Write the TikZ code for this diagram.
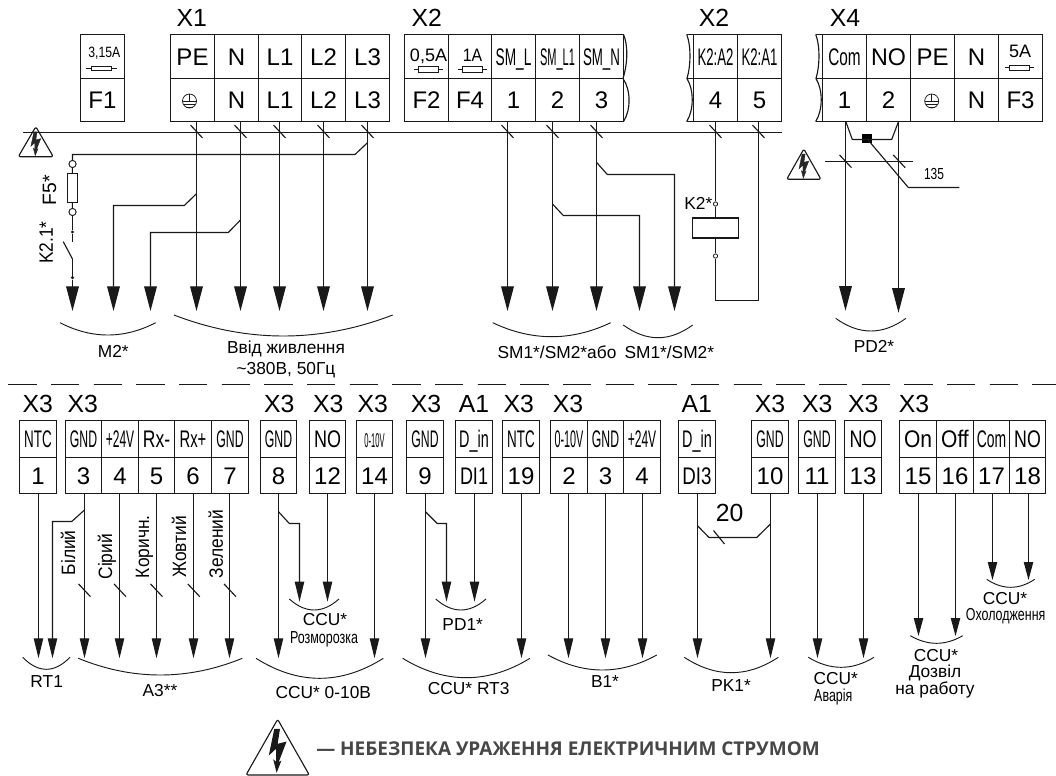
\documentclass[tikz,border=0pt]{standalone}
\usepackage{fontspec}
\usepackage{graphicx}
\setmainfont{Liberation Sans}
\newfontfamily\boldsign{Open Sans}
\usetikzlibrary{arrows.meta}
\newcommand\sx[2]{\scalebox{#1}[1]{#2}}
\tikzset{
  wire/.style={line width=.85pt,draw=black!90},
  thin wire/.style={line width=.55pt,draw=black!90},
  bigtip/.style={-{Triangle[length=18.5pt,width=9.5pt,sep=0pt]}},
  midtip/.style={-{Triangle[length=15pt,width=7pt,sep=0pt]}},
  smalltip/.style={-{Triangle[length=13.5pt,width=7pt,sep=0pt]}},
  cellbox/.style={draw=black!90,line width=.85pt,inner sep=0pt,font=\fontsize{18}{18}\selectfont,text height=13pt,text depth=0pt,align=center},
  head/.style={inner sep=0pt,font=\fontsize{18.6}{18.6}\selectfont,text height=13.3pt,text depth=0pt},
  lab/.style={inner sep=0pt,font=\fontsize{13}{13}\selectfont,text height=9.4pt,text depth=0pt},
  rot/.style={inner sep=0pt,rotate=90,font=\fontsize{14.5}{14.5}\selectfont,text height=10.4pt,text depth=0pt},
  fuselab/.style={inner sep=0pt,text depth=0pt},
  brace/.style={line width=.7pt,draw=black!90},
}
% name, x0, x1, y0, y1, content (borders are snapped to pixel centres)
\newcommand\cellb[6]{\pgfmathsetmacro\cxa{floor(#2)+.5}\pgfmathsetmacro\cxb{floor(#3)+.5}\pgfmathsetmacro\cya{floor(#4)+.5}\pgfmathsetmacro\cyb{floor(#5)+.5}%
\node[cellbox,minimum width={(\cxb-\cxa)*.75pt},minimum height={(\cyb-\cya)*.75pt}] (#1) at ({(\cxa+\cxb)/2},{(\cya+\cyb)/2}) {#6};}
% node, x, tip y, tip style
\newcommand\wirelead[4]{\coordinate (h#1) at (#2,#3); \draw[wire,#4] (#1.south -| h#1) -- (h#1);}
\newcommand\xtick[2]{\draw[wire] ({#1-6},{#2-6.4}) -- ({#1+6},{#2+6.4});}
% group arc: x0, y0, x1, apex y
\newcommand\garc[4]{\draw[brace] (#1,#2) .. controls ({#1+(#3-#1)/3},{#2+(#4-#2)*4/3}) and ({#1+(#3-#1)*2/3},{#2+(#4-#2)*4/3}) .. (#3,#2);}
% x0 y0 x1 y1 bolt style
\newcommand\warnsign[5]{\begin{scope}[shift={(#1,#2)},x={({(#3-#1)*.75pt},0pt)},y={(0pt,{-(#4-#2)*.75pt})}]
\draw[wire,rounded corners=1.6pt,line join=round] (.5,0) -- (1,1) -- (0,1) -- cycle;
\path[#5] (.447,.17) -- (.537,.17) -- (.50,.44) -- (.64,.40) -- (.516,.77) -- (.56,.74) -- (.484,.96) -- (.43,.72) -- (.474,.76) -- (.474,.53) -- (.36,.65) -- cycle;
\end{scope}}
\newcommand\fusesym[4]{% x0 x1 rect half y
\draw[thin wire] (#1,#4) -- (#2,#4);
\draw[thin wire,fill=white] ({(#1+#2)/2-10},{#4-#3}) rectangle ({(#1+#2)/2+10},{#4+#3});}
\newcommand\earth[2]{\draw[thin wire] (#1,#2) circle (7);
\draw[thin wire] (#1,{#2-7}) -- (#1,#2) ({#1-7},#2) -- ({#1+7},#2) ({#1-5.6},{#2+3.6}) -- ({#1+5.6},{#2+3.6}) ({#1-3.2},{#2+6}) -- ({#1+3.2},{#2+6});}
\begin{document}
\begin{tikzpicture}[x=.75pt,y=-.75pt]
\useasboundingbox (0,0) rectangle (1056,775);
\fill[white] (0,0) rectangle (1056,775);
% headers
\node[head] (hX1) at (191.7,18) {X1};
\node[head] (hX2a) at (426.7,18) {X2};
\node[head] (hX2b) at (714,18) {X2};
\node[head] (hX4) at (845,18) {X4};
% top terminals
\cellb{f1t}{80.7}{124}{34.5}{78.5}{}
\cellb{f1}{80.7}{124}{78.5}{121}{F1}
\cellb{pet}{170.7}{214.7}{34.5}{78.5}{PE}
\cellb{pe}{170.7}{214.7}{78.5}{121}{}
\cellb{nt}{214.7}{258}{34.5}{78.5}{N}
\cellb{n}{214.7}{258}{78.5}{121}{N}
\cellb{lat}{258}{301.7}{34.5}{78.5}{L1}
\cellb{la}{258}{301.7}{78.5}{121}{L1}
\cellb{lbt}{301.7}{345.7}{34.5}{78.5}{L2}
\cellb{lb}{301.7}{345.7}{78.5}{121}{L2}
\cellb{lct}{345.7}{389.3}{34.5}{78.5}{L3}
\cellb{lc}{345.7}{389.3}{78.5}{121}{L3}
\cellb{f2t}{404}{448.3}{34.5}{78.5}{}
\cellb{f2}{404}{448.3}{78.5}{121}{F2}
\cellb{f4t}{448.3}{491.7}{34.5}{78.5}{}
\cellb{f4}{448.3}{491.7}{78.5}{121}{F4}
\cellb{smat}{491.7}{535.3}{34.5}{78.5}{\sx{.57}{SM\_L}}
\cellb{sma}{491.7}{535.3}{78.5}{121}{1}
\cellb{smbt}{535.3}{579.3}{34.5}{78.5}{\sx{.46}{SM\_L1}}
\cellb{smb}{535.3}{579.3}{78.5}{121}{2}
\cellb{smct}{579.3}{623.3}{34.5}{78.5}{\sx{.555}{SM\_N}}
\cellb{smc}{579.3}{623.3}{78.5}{121}{3}
\cellb{kat}{693.7}{737.3}{34.5}{78.5}{\sx{.55}{K2:A2}}
\cellb{ka}{693.7}{737.3}{78.5}{121}{4}
\cellb{kbt}{737.3}{781.3}{34.5}{78.5}{\sx{.55}{K2:A1}}
\cellb{kb}{737.3}{781.3}{78.5}{121}{5}
\cellb{comt}{822.7}{866.7}{34.5}{78.5}{\sx{.64}{Com}}
\cellb{com}{822.7}{866.7}{78.5}{121}{1}
\cellb{not}{866.7}{910.3}{34.5}{78.5}{\sx{.97}{NO}}
\cellb{no}{866.7}{910.3}{78.5}{121}{2}
\cellb{pfour}{910.3}{954.3}{34.5}{78.5}{PE}
\cellb{pfourb}{910.3}{954.3}{78.5}{121}{}
\cellb{nfourt}{954.3}{998.3}{34.5}{78.5}{N}
\cellb{nfour}{954.3}{998.3}{78.5}{121}{N}
\cellb{f3t}{998.3}{1042}{34.5}{78.5}{}
\cellb{f3}{998.3}{1042}{78.5}{121}{F3}
% broken edges
\draw[wire] (623.5,34.5) .. controls (628,45) and (628,62) .. (623,78.5) .. controls (631,90) and (631,110) .. (623.5,121.5);
\draw[wire] (686.7,34.5) .. controls (691,45) and (691,65) .. (687,78.5) .. controls (694,90) and (694,110) .. (686.7,121.5);
\draw[wire] (686.7,34.5) -- (693.5,34.5) (687,78.5) -- (693.5,78.5) (686.7,121.5) -- (693.5,121.5);
\draw[wire] (815.7,34.5) .. controls (820,45) and (820,65) .. (816,78.5) .. controls (823,90) and (823,110) .. (815.7,121.5);
\draw[wire] (815.7,34.5) -- (822.5,34.5) (816,78.5) -- (822.5,78.5) (815.7,121.5) -- (822.5,121.5);
% fuses, earth
\node[fuselab,font=\fontsize{11.2}{11.2}\selectfont] (t315) at (104.3,52) {\sx{.82}{3,15A}};
\fusesym{86}{116.7}{2}{68.5}
\node[fuselab,font=\fontsize{13.5}{13.5}\selectfont] (t05) at (428.5,55) {0,5A};
\fusesym{414}{442.7}{3}{69.5}
\node[fuselab,font=\fontsize{13.5}{13.5}\selectfont] (t1) at (472.5,55) {\sx{.88}{1A}};
\fusesym{458.3}{487.3}{3}{69.5}
\node[fuselab,font=\fontsize{13.5}{13.5}\selectfont] (t5) at (1020,51) {5A};
\fusesym{1005}{1034}{2.6}{67.8}
\earth{189.5}{101}
\earth{931.7}{101}
% bus
\coordinate (busA) at (23,132.5);
\coordinate (busB) at (781.5,132.5);
\draw[wire] (busA) -- (busB);
\warnsign{18.3}{126.7}{53.3}{156.7}{fill=black!85,draw=black!85,line width=.3pt}
\foreach \x in {196.5,240.5,279.5,323.5,367.5,507.5,552.5,596.5,715.5,758.5} {\xtick{\x}{131.5}}
% X1 leads
\wirelead{pe}{196.5}{311}{bigtip}
\wirelead{n}{240.5}{311}{bigtip}
\wirelead{la}{279.5}{311}{bigtip}
\wirelead{lb}{323.5}{311}{bigtip}
\wirelead{lc}{367.5}{311}{bigtip}
\coordinate (jL) at (367.5,142.7);
\coordinate (jPE) at (196.5,193.7);
\coordinate (jN) at (240.5,220);
\coordinate (hMa) at (72.5,311);
\coordinate (hMb) at (113.5,311);
\coordinate (hMc) at (150.5,311);
\node[draw=black!90,line width=.7pt,fill=white,minimum width=7.5pt,minimum height=21.4pt,inner sep=0pt] (fuse5) at (72,188) {};
\node[draw=black!90,line width=.7pt,fill=white,circle,minimum size=5.4pt,inner sep=0pt] (c5a) at (72.5,164) {};
\node[draw=black!90,line width=.7pt,fill=white,circle,minimum size=5.4pt,inner sep=0pt] (c5b) at (72.5,212) {};
\node[fill=black!90,circle,minimum size=2.6pt,inner sep=0pt] (d2a) at (72.5,232) {};
\node[fill=black!90,circle,minimum size=2.6pt,inner sep=0pt] (d2b) at (72.5,277.7) {};
\draw[wire] (jL) -- (355,154.5) -- (72.5,154.5) -- (c5a.north);
\draw[wire] (c5a) -- (fuse5) (fuse5) -- (c5b);
\draw[wire] (c5b) -- (d2a) -- (72.5,241.7);
\draw[wire] (63.3,241.7) -- (72.5,259);
\draw[wire,bigtip] (72.5,259) -- (d2b) -- (hMa);
\draw[wire,bigtip] (jPE) -- (184.3,205.5) -- (113.5,205.5) -- (hMb);
\draw[wire,bigtip] (jN) -- (228.3,232.5) -- (150.5,232.5) -- (hMc);
\node[inner sep=0pt,rotate=90,font=\fontsize{14.5}{14.5}\selectfont,text height=10.4pt,text depth=0pt] (lF5) at (49.3,190) {F5*};
\node[inner sep=0pt,rotate=90,font=\fontsize{14.5}{14.5}\selectfont,text height=10.4pt,text depth=0pt] (lK21) at (46,242.7) {\sx{.9}{K2.1*}};
\garc{60}{322.7}{155.7}{335}
\garc{174}{315}{392.7}{336}
\node[lab] (lM2) at (113.3,351) {M2*};
\node[lab] (lIn1) at (286,347.3) {Ввід живлення};
\node[lab] (lIn2) at (286,368.3) {\textasciitilde380В, 50Гц};
% SM leads
\wirelead{sma}{507.5}{311}{bigtip}
\wirelead{smb}{552.5}{311}{bigtip}
\wirelead{smc}{596.5}{311}{bigtip}
\coordinate (jSb) at (552.5,204);
\coordinate (jSc) at (596.5,162.3);
\coordinate (hSd) at (639.5,311);
\coordinate (hSe) at (674.5,311);
\draw[wire,bigtip] (jSb) -- (563.3,215.5) -- (639.5,215.5) -- (hSd);
\draw[wire,bigtip] (jSc) -- (607.3,174.5) -- (674.5,174.5) -- (hSe);
\garc{492.7}{322.7}{610.7}{336.7}
\garc{623.3}{325}{692.7}{337.7}
\node[lab] (lSa) at (557,352) {SM1*/SM2*або};
\node[lab] (lSb) at (669.3,352) {SM1*/SM2*};
% relay
\node[draw=black!90,line width=.85pt,minimum width=34.2pt,minimum height=15pt,inner sep=0pt] (rel) at (715.5,228) {};
\node[draw=black!90,line width=.6pt,fill=white,circle,minimum size=3.2pt,inner sep=0pt] (ra) at (715.5,204) {};
\node[draw=black!90,line width=.6pt,fill=white,circle,minimum size=3.2pt,inner sep=0pt] (rb) at (715.5,256) {};
\coordinate (rc) at (715.5,300.5);
\coordinate (rd) at (758.5,300.5);
\draw[wire] (ka.south -| ra) -- (ra) -- (rel);
\draw[wire] (rel) -- (rb) -- (rc) -- (rd) -- (kb.south -| rd);
\node[lab] (lK2) at (698.3,203.3) {K2*};
% X4 leads
\wirelead{com}{845.5}{310.7}{bigtip}
\wirelead{no}{898.5}{312.7}{bigtip}
\node[fill=black,minimum width=7pt,minimum height=7pt,inner sep=0pt] (sq) at (867,138.7) {};
\draw[wire] (com.south -| 846,0) -- (852.3,139.5) -- (891.7,139.5) -- (no.south -| 898.3,0);
\draw[wire] (sq.center) -- (908.3,187.5) -- (959.3,187.5);
\coordinate (busCa) at (825,161.5);
\coordinate (busCb) at (913.3,161.5);
\draw[wire] (busCa) -- (busCb);
\xtick{845.5}{161.3}
\xtick{899.2}{161.3}
\warnsign{786.7}{149}{821}{179.3}{fill=black!85,draw=black!85,line width=.3pt}
\node[inner sep=0pt,font=\fontsize{12}{12}\selectfont] (l135) at (934,174) {\sx{.75}{135}};
\garc{835.7}{318.3}{906}{331}
\node[lab] (lPD2) at (874,346.7) {PD2*};
% dashed separator
\coordinate (dashA) at (8.3,384.5);
\coordinate (dashB) at (1056,384.5);
\draw[line width=.9pt,draw=black!90,dash pattern=on 21.3pt off 10.7pt] (dashA) -- (dashB);
% lower headers
\node[head] (u1) at (37.7,403.3) {X3};
\node[head] (u2) at (82.7,403.3) {X3};
\node[head] (u3) at (279.3,403.3) {X3};
\node[head] (u4) at (328.3,403.3) {X3};
\node[head] (u5) at (372.7,403.3) {X3};
\node[head] (u6) at (426,403.3) {X3};
\node[head] (u7) at (474,403.3) {A1};
\node[head] (u8) at (518.7,403.3) {X3};
\node[head] (u9) at (568,403.3) {X3};
\node[head] (u10) at (696.7,403.3) {A1};
\node[head] (u11) at (770,403.3) {X3};
\node[head] (u12) at (817.3,403.3) {X3};
\node[head] (u13) at (863.3,403.3) {X3};
\node[head] (u14) at (914,403.3) {X3};
% lower terminals
\newcommand\lowc[5]{\cellb{#1t}{#2}{#3}{420.7}{457}{#4}\cellb{#1}{#2}{#3}{457}{493.7}{#5}}
\lowc{a}{19.7}{56.7}{\sx{.56}{NTC}}{1}
\lowc{b}{65}{101.7}{\sx{.51}{GND}}{3}
\lowc{c}{101.7}{138.3}{\sx{.5}{+24V}}{4}
\lowc{d}{138.3}{174.7}{\sx{.73}{Rx-}}{5}
\lowc{e}{174.7}{211.7}{\sx{.62}{Rx+}}{6}
\lowc{f}{211.7}{248.3}{\sx{.51}{GND}}{7}
\lowc{g}{260.3}{296.7}{\sx{.51}{GND}}{8}
\lowc{h}{309.3}{345.7}{\sx{.75}{NO}}{12}
\lowc{i}{356}{392.7}{\fontsize{15}{15}\selectfont\sx{.38}{0-10V}}{14}
\lowc{j}{406.3}{443.3}{\sx{.51}{GND}}{9}
\lowc{k}{455.7}{492.3}{\sx{.6}{D\_in}}{\sx{.75}{DI1}}
\lowc{l}{502.7}{539.3}{\sx{.56}{NTC}}{19}
\lowc{m}{550.7}{587.3}{\sx{.45}{0-10V}}{2}
\lowc{o}{587.3}{623.7}{\sx{.51}{GND}}{3}
\lowc{p}{623.7}{660.3}{\sx{.5}{+24V}}{4}
\lowc{q}{678.7}{715.3}{\sx{.6}{D\_in}}{\sx{.78}{DI3}}
\lowc{r}{751.7}{788.3}{\sx{.51}{GND}}{10}
\lowc{s}{798.7}{835.3}{\sx{.51}{GND}}{11}
\lowc{u}{844.7}{881.3}{\sx{.75}{NO}}{13}
\lowc{v}{899.7}{936.3}{\sx{.875}{On}}{15}
\lowc{w}{936.3}{973}{\sx{.875}{Off}}{16}
\lowc{y}{973}{1009.3}{\sx{.58}{Com}}{17}
\lowc{z}{1009.3}{1045.7}{\sx{.74}{NO}}{18}
% lower leads
\wirelead{a}{38.5}{658.3}{midtip}
\wirelead{b}{84.5}{658.3}{midtip}
\wirelead{c}{119.5}{658.3}{midtip}
\wirelead{d}{156.5}{658.3}{midtip}
\wirelead{e}{193.5}{658.3}{midtip}
\wirelead{f}{229.5}{658.3}{midtip}
\wirelead{g}{278.5}{658.3}{midtip}
\wirelead{h}{327.5}{601.7}{midtip}
\wirelead{i}{374.5}{658.3}{midtip}
\wirelead{j}{425.5}{658.3}{midtip}
\wirelead{k}{474.5}{601.7}{midtip}
\wirelead{l}{521.5}{658.3}{midtip}
\wirelead{m}{568.5}{658.3}{midtip}
\wirelead{o}{605.5}{658.3}{midtip}
\wirelead{p}{642.5}{658.3}{midtip}
\wirelead{q}{697.5}{658.3}{midtip}
\wirelead{r}{770.5}{658.3}{midtip}
\wirelead{s}{817.5}{658.3}{midtip}
\wirelead{u}{863.5}{658.3}{midtip}
\wirelead{v}{918.5}{636}{smalltip}
\wirelead{w}{955.5}{636}{smalltip}
\wirelead{y}{992.5}{580}{smalltip}
\wirelead{z}{1028.5}{580}{smalltip}
\coordinate (hRT) at (52.5,658.3);
\coordinate (hGb) at (299.5,601.7);
\coordinate (hJb) at (446.5,601.7);
\draw[wire,midtip] (84.5,510) -- (71.7,521.5) -- (52.5,521.5) -- (hRT);
\draw[wire,midtip] (278.5,511.7) -- (289.3,523.5) -- (299.5,523.5) -- (hGb);
\draw[wire,midtip] (425.5,511.7) -- (437.3,523.5) -- (446.5,523.5) -- (hJb);
\draw[wire] (697.5,525.7) -- (709,537.5) -- (756.7,537.5) -- (770.5,524);
\draw[wire] (713.5,530.5) -- (724.5,544);
\foreach \x in {84.5,120,156.5,193.8,230} {\xtick{\x}{590.3}}
% rotated colour names
\node[rot] (c1) at (68.3,552.7) {\sx{.9}{Білий}};
\node[rot] (c2) at (105.3,556.7) {\sx{.9}{Сірий}};
\node[rot] (c3) at (142.3,546.7) {\sx{.9}{Коричн.}};
\node[rot] (c4) at (179.3,546.7) {\sx{.9}{Жовтий}};
\node[rot] (c5) at (216,544) {\sx{.9}{Зелений}};
\node[head] (n20) at (729.7,512.3) {20};
% group arcs
\garc{22.7}{657.3}{70}{669.3}
\garc{78.3}{658.3}{242.3}{675}
\garc{256}{658.3}{383.3}{678.3}
\garc{289.3}{599}{339}{610}
\garc{435.7}{599}{486}{610}
\garc{402.7}{658.3}{530}{677.7}
\garc{548}{655}{656.7}{670}
\garc{684.3}{657.3}{778.3}{672.7}
\garc{808.3}{657.3}{874}{667.3}
\garc{910.3}{635.7}{962.7}{643.3}
\garc{986.7}{579.3}{1034.7}{587.3}
% lower labels
\node[lab] (bRT) at (46.7,681.7) {RT1};
\node[lab] (bA3) at (160,690) {А3**};
\node[lab] (bC1) at (323.3,692.7) {CCU* 0-10В};
\node[lab] (bC2) at (325,619.3) {CCU*};
\node[lab] (bC2b) at (324,637.3) {\sx{.72}{Розморозка}};
\node[lab] (bPD1) at (462.7,624) {PD1*};
\node[lab] (bC3) at (468.7,688.3) {CCU* RT3};
\node[lab] (bB1) at (605,681.7) {B1*};
\node[lab] (bPK) at (731,685) {PK1*};
\node[lab] (bC4) at (835.7,678.3) {CCU*};
\node[lab] (bC4b) at (833.3,695) {\sx{.72}{Аварія}};
\node[lab] (bC5) at (936,655.7) {CCU*};
\node[lab] (bC5b) at (935,671.7) {Дозвіл};
\node[lab] (bC5c) at (935,688) {на работу};
\node[lab] (bC6) at (1005,598.3) {CCU*};
\node[lab] (bC6b) at (1005.7,614.3) {\sx{.72}{Охолодження}};
% legend
\warnsign{246}{719.3}{309.3}{775}{fill=black!90}
\node[inner sep=0pt,anchor=west,text=black!72,font=\boldsign\bfseries\fontsize{14.25}{14.25}\selectfont] (legend) at (316,748.3) {— НЕБЕЗПЕКА УРАЖЕННЯ ЕЛЕКТРИЧНИМ СТРУМОМ};
\end{tikzpicture}
\end{document}
